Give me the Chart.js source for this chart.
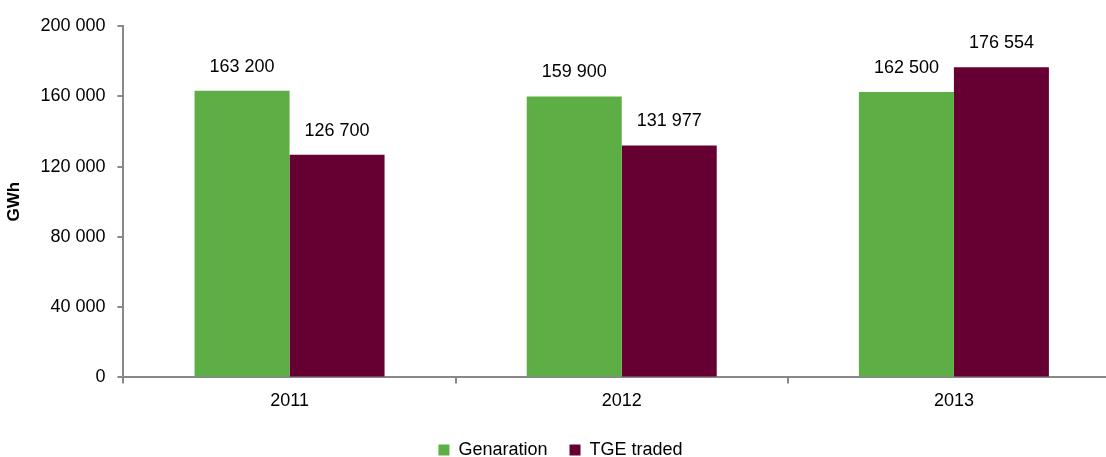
<!DOCTYPE html>
<html>
<head>
<meta charset="utf-8">
<script src="https://cdn.jsdelivr.net/npm/chart.js@4"></script>
<style>
    html, body { margin: 0; padding: 0; background: #fff; overflow: hidden; }
    #wrap { width: 1120px; height: 469px; }
</style>
</head>
<body>
<div id="wrap"><canvas id="chart"></canvas></div>
<script>
const years = ["2011", "2012", "2013"];
const generation = [163200, 159900, 162500];
const tgeTraded = [126700, 131977, 176554];
const seriesNames = ["Genaration", "TGE traded"];

const FONT = "'Liberation Sans', Arial, sans-serif";

function fmt(v) {
    return String(v).replace(/\B(?=(\d{3})+(?!\d))/g, " ");
}

// value labels above bars
const barLabels = {
    id: "barLabels",
    afterDatasetsDraw(chart) {
        let ctx = chart.ctx;
        ctx.save();
        ctx.font = "18px " + FONT;
        ctx.fillStyle = "#000";
        ctx.textAlign = "center";
        ctx.textBaseline = "middle";
        chart.data.datasets.forEach(function(ds, i) {
            chart.getDatasetMeta(i).data.forEach(function(bar, j) {
                ctx.fillText(fmt(ds.data[j]), bar.x, bar.y - 24);
            });
        });
        ctx.restore();
    }
};

Chart.defaults.font.family = FONT;
Chart.defaults.font.size = 18;
Chart.defaults.color = "#000";

new Chart(document.querySelector("#chart").getContext("2d"), {
    type: "bar",
    data: {
        labels: years,
        datasets: [{
            label: seriesNames[0],
            data: generation,
            backgroundColor: "#5dae44"
        }, {
            label: seriesNames[1],
            data: tgeTraded,
            backgroundColor: "#660033"
        }]
    },
    plugins: [barLabels],
    options: {
        responsive: true,
        maintainAspectRatio: false,
        animation: false,
        layout: { padding: { left: 1, top: 26, right: 0, bottom: 0 } },
        datasets: { bar: { categoryPercentage: 0.572, barPercentage: 1.0 } },
        plugins: {
            tooltip: { enabled: false },
            legend: {
                position: "bottom",
                labels: {
                    boxWidth: 11,
                    boxHeight: 11,
                    padding: 22,
                    font: { size: 18 }
                }
            }
        },
        scales: {
            x: {
                border: { color: "#888", width: 2 },
                grid: { drawOnChartArea: false, drawTicks: true, tickLength: 6, color: "#888", lineWidth: 2, offset: true },
                ticks: { padding: 7 }
            },
            y: {
                min: 0,
                max: 200000,
                border: { color: "#888", width: 2 },
                grid: { drawOnChartArea: false, drawTicks: true, tickLength: 6, color: "#888", lineWidth: 2 },
                ticks: { stepSize: 40000, padding: 12, callback: function(v) { return fmt(v); } },
                title: { display: true, text: "GWh", font: { size: 17, weight: "bold" }, padding: { top: 3, bottom: 4 } }
            }
        }
    }
});
</script>
</body>
</html>
